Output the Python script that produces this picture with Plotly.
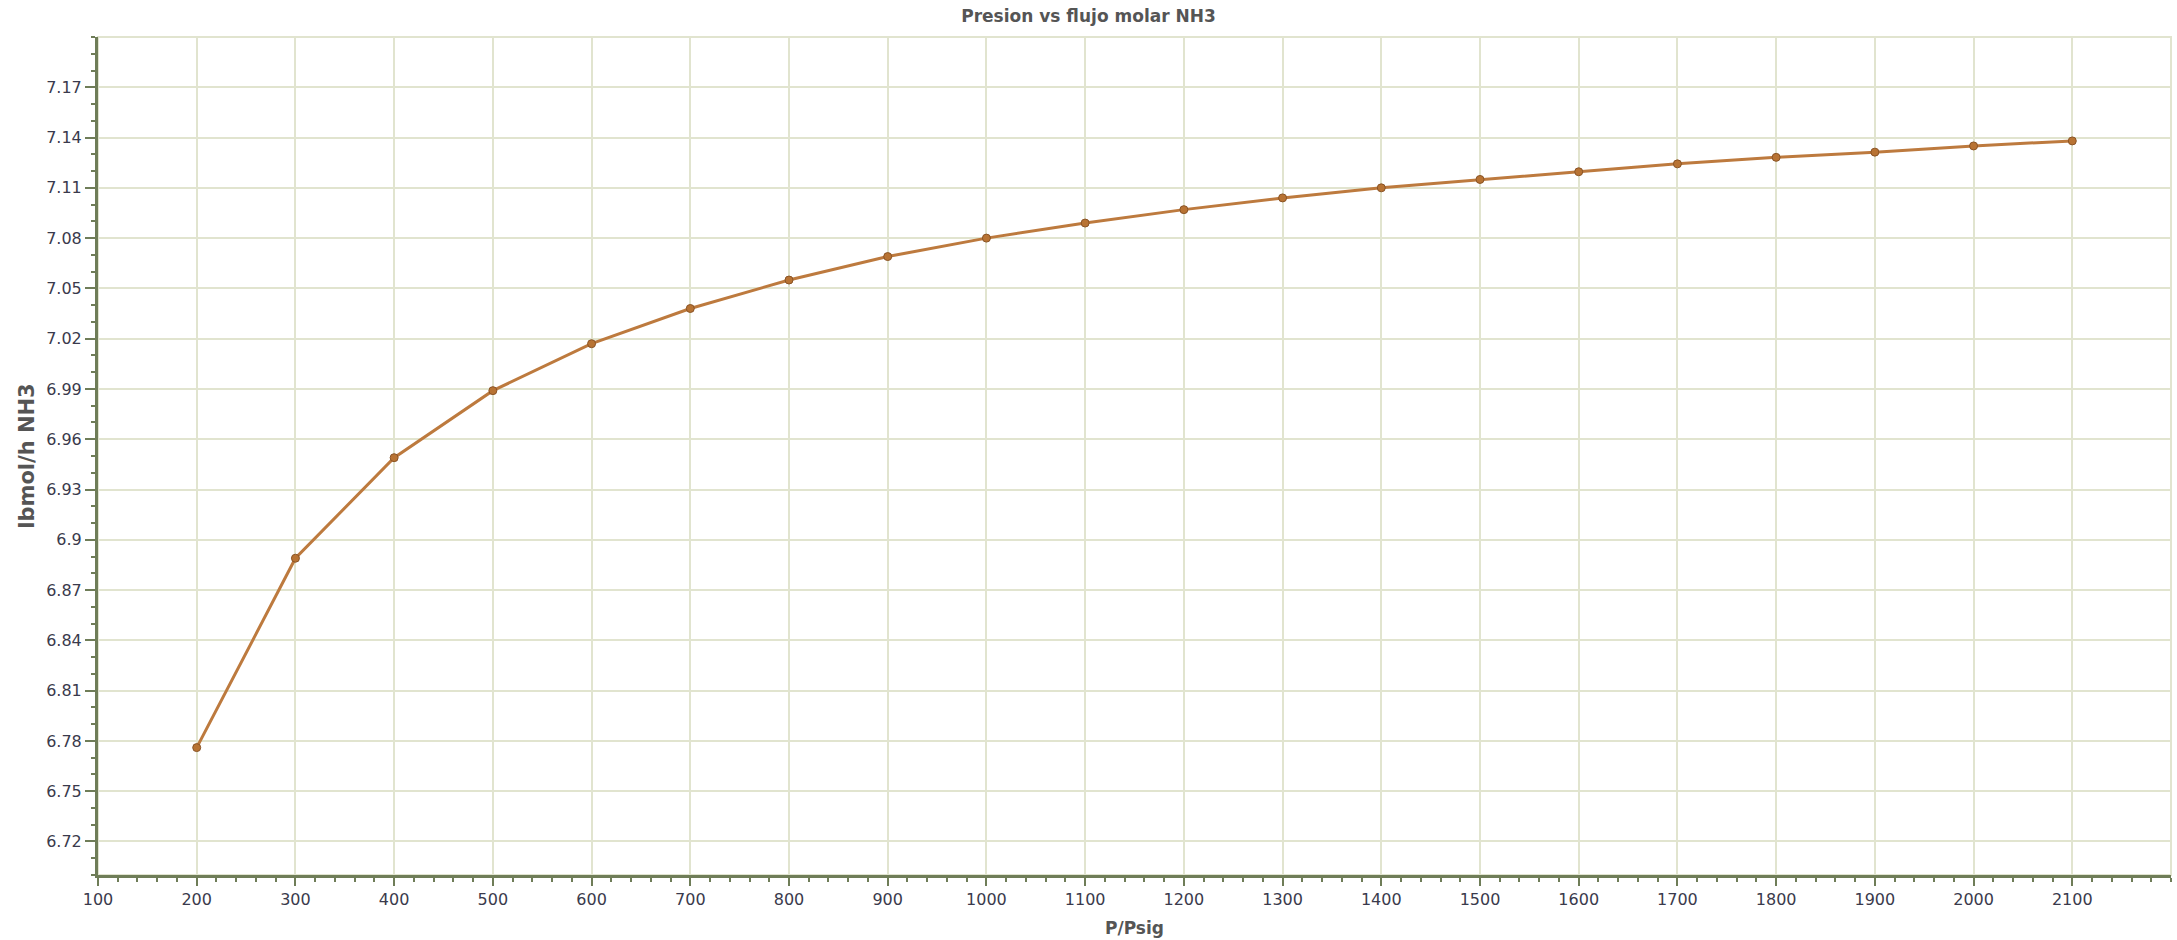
import plotly.graph_objects as go

presion = [200, 300, 400, 500, 600, 700, 800, 900, 1000, 1100, 1200,
           1300, 1400, 1500, 1600, 1700, 1800, 1900, 2000, 2100]
flujo_nh3 = [6.776, 6.889, 6.949, 6.989, 7.017, 7.038, 7.055, 7.069, 7.080, 7.089, 7.097,
             7.104, 7.110, 7.115, 7.1196, 7.1243, 7.1282, 7.1313, 7.135, 7.138]

x_ticks = [100, 200, 300, 400, 500, 600, 700, 800, 900, 1000, 1100, 1200,
           1300, 1400, 1500, 1600, 1700, 1800, 1900, 2000, 2100]
y_ticks = [6.72, 6.75, 6.78, 6.81, 6.84, 6.87, 6.9, 6.93, 6.96, 6.99,
           7.02, 7.05, 7.08, 7.11, 7.14, 7.17]
y_tick_text = ["6.72", "6.75", "6.78", "6.81", "6.84", "6.87", "6.9", "6.93", "6.96", "6.99",
               "7.02", "7.05", "7.08", "7.11", "7.14", "7.17"]

grid = "#e1e4cf"
axis_col = "#6f7d58"
tick_font = dict(family="DejaVu Sans", size=16, color="#3a3a4c")
title_font_family = "DejaVu Sans"

fig = go.Figure()
fig.add_trace(go.Scatter(
    x=presion, y=flujo_nh3, mode="lines+markers",
    line=dict(color="#bd7a3e", width=3),
    marker=dict(size=8, color="#b87333", line=dict(color="#8a5426", width=1)),
    showlegend=False,
))

fig.update_layout(
    width=2177, height=940,
    margin=dict(l=98, r=6, t=37, b=65),
    paper_bgcolor="white", plot_bgcolor="white",
    title=dict(text="<b>Presion vs flujo molar NH3</b>", x=0.5, xref="container",
               xanchor="center", y=1 - 16 / 940, yanchor="middle",
               font=dict(family=title_font_family, size=17, color="#555555")),
    shapes=[dict(type="rect", xref="paper", yref="paper", x0=0, y0=0, x1=1, y1=1,
                 line=dict(color=grid, width=2), layer="below")],
)

fig.update_xaxes(
    range=[100, 2200], tickvals=x_ticks, showgrid=True, gridcolor=grid, gridwidth=2,
    showline=True, linecolor=axis_col, linewidth=3, zeroline=False,
    ticks="outside", ticklen=8, tickwidth=2, tickcolor=axis_col,
    tickfont=tick_font,
    minor=dict(dtick=20, tick0=100, ticks="outside", ticklen=4, tickwidth=2,
               tickcolor=axis_col, showgrid=False),
    title=dict(text="<b>P/Psig</b>", standoff=14,
               font=dict(family=title_font_family, size=17, color="#555555")),
)
fig.update_yaxes(
    range=[6.70, 7.20], tickvals=y_ticks, ticktext=y_tick_text,
    showgrid=True, gridcolor=grid, gridwidth=2,
    showline=True, linecolor=axis_col, linewidth=3, zeroline=False,
    ticks="outside", ticklen=10, tickwidth=2, tickcolor=axis_col,
    tickfont=tick_font,
    minor=dict(dtick=0.01, tick0=6.70, ticks="outside", ticklen=4, tickwidth=2,
               tickcolor=axis_col, showgrid=False),
    title=dict(text="<b>lbmol/h NH3</b>", standoff=6,
               font=dict(family=title_font_family, size=21, color="#555555")),
)

fig.write_html("out.html")
